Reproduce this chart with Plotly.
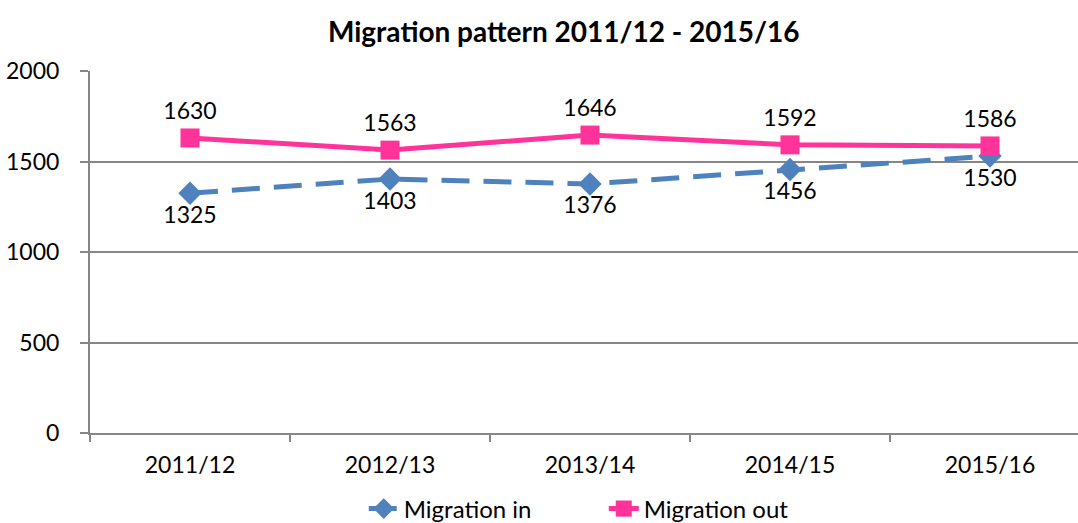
import plotly.graph_objects as go

categories = ["2011/12", "2012/13", "2013/14", "2014/15", "2015/16"]
migration_in = [1325, 1403, 1376, 1456, 1530]
migration_out = [1630, 1563, 1646, 1592, 1586]

font_family = "Lato, 'Open Sans', sans-serif"

fig = go.Figure()
fig.add_trace(go.Scatter(
    x=categories, y=migration_in, name="Migration in",
    mode="lines+markers+text",
    line=dict(color="#4F81BD", width=5, dash="28px,14px"),
    marker=dict(symbol="diamond", size=18, color="#4F81BD"),
    text=[str(v) for v in migration_in], textposition="bottom center",
    textfont=dict(size=23, color="black", family=font_family),
    cliponaxis=False,
))
fig.add_trace(go.Scatter(
    x=categories, y=migration_out, name="Migration out",
    mode="lines+markers+text",
    line=dict(color="#FF3399", width=5),
    marker=dict(symbol="square", size=19, color="#FF3399"),
    text=[str(v) for v in migration_out], textposition="top center",
    textfont=dict(size=23, color="black", family=font_family),
    cliponaxis=False,
))

fig.update_layout(
    width=1078, height=523,
    margin=dict(l=90, r=0, t=71, b=90, autoexpand=False),
    paper_bgcolor="white", plot_bgcolor="white",
    font=dict(family=font_family, size=23, color="black"),
    title=dict(text="<b>Migration pattern 2011/12 - 2015/16</b>", x=0.523, xanchor="center",
               y=1 - 32 / 523, yanchor="middle", font=dict(size=28)),
    showlegend=True,
    legend=dict(orientation="h", x=0.52, xanchor="center", y=-0.21, yanchor="middle",
                font=dict(size=24), traceorder="normal", entrywidth=195),
    xaxis=dict(type="category", range=[-0.5, 4.44], showgrid=False, automargin=False,
               showline=True, linecolor="#868686", linewidth=2,
               ticks="outside", tickson="boundaries", ticklen=7, tickcolor="#868686", tickwidth=2,
               ticklabelstandoff=10, tickfont=dict(size=23)),
    yaxis=dict(range=[0, 2000], tickvals=[0, 500, 1000, 1500, 2000], showgrid=True, automargin=False,
               gridcolor="#868686", gridwidth=2, zeroline=False,
               showline=True, linecolor="#868686", linewidth=2,
               ticks="outside", ticklen=8, tickcolor="#868686", tickwidth=2,
               ticklabelstandoff=16, tickfont=dict(size=23)),
)

fig.write_html("out.html", config={"displayModeBar": False},
               post_script="document.body.style.margin='0';document.body.style.overflow='hidden';")
